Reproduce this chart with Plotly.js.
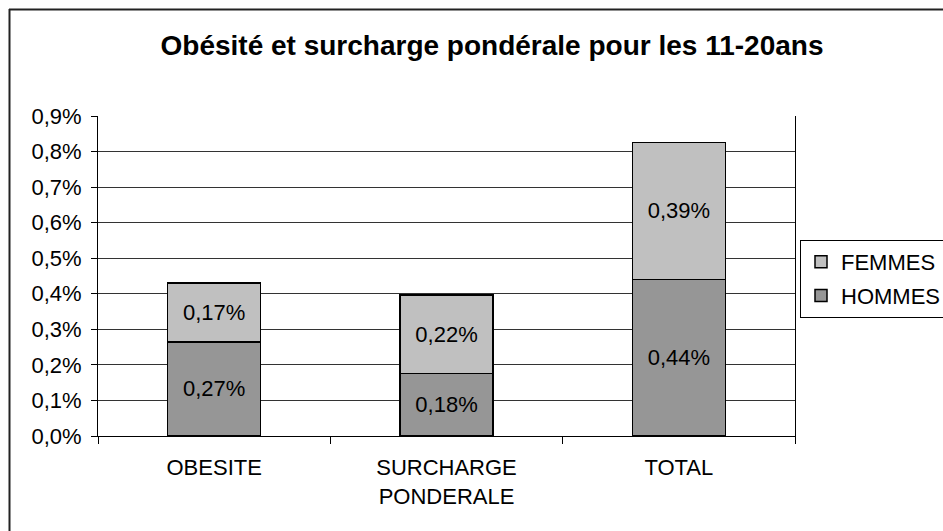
<!DOCTYPE html>
<html>
<head>
<meta charset="utf-8">
<script src="https://cdn.plot.ly/plotly-3.0.1.min.js"></script>
<style>html,body{margin:0;padding:0;background:#fff;}#chart{width:943px;height:531px;}</style>
</head>
<body>
<div id="chart"></div>
<script>
// Data (values in percent)
const categories = ["OBESITE", "SURCHARGE<br>PONDERALE", "TOTAL"];
const hommes = [0.265, 0.176, 0.44];
const femmes = [0.166, 0.221, 0.386];
const yTicks = [0, 0.1, 0.2, 0.3, 0.4, 0.5, 0.6, 0.7, 0.8, 0.9];
const yTickLabels = ["0,0%", "0,1%", "0,2%", "0,3%", "0,4%", "0,5%", "0,6%", "0,7%", "0,8%", "0,9%"];
const titleText = "Obésité et surcharge pondérale pour les 11-20ans";

const FONT = "Liberation Sans, Arial, sans-serif";
const W = 943, H = 531;
const L = 98, R = 148, T = 116, B = 95;
const pw = W - L - R, ph = H - T - B;

const common = {
  type: "bar",
  x: categories,
  textposition: "inside",
  insidetextanchor: "middle",
  texttemplate: "%{y:.2f}%",
  textfont: {family: FONT, size: 22, color: "#000"},
  constraintext: "none",
  hoverinfo: "skip"
};

const traces = [
  Object.assign({}, common, {
    name: "HOMMES", y: hommes, legendgroup: "h", legendrank: 2,
    marker: {color: "#969696", line: {color: "#000", width: 1.5}}
  }),
  Object.assign({}, common, {
    name: "FEMMES", y: femmes, legendgroup: "f", legendrank: 1,
    marker: {color: "#C0C0C0", line: {color: "#000", width: 1.5}}
  })
];

const layout = {
  width: W, height: H,
  margin: {l: L, r: R, t: T, b: B},
  paper_bgcolor: "#fff", plot_bgcolor: "#fff",
  separators: ",.",
  barmode: "stack",
  bargap: 0.6,
  font: {family: FONT, size: 22, color: "#000"},
  title: {
    text: "<b>" + titleText + "</b>",
    font: {family: FONT, size: 28, color: "#000"},
    x: 492 / W, xanchor: "center", xref: "container",
    y: 1 - 45 / H, yanchor: "middle", yref: "container"
  },
  xaxis: {
    type: "category",
    tickson: "boundaries",
    ticks: "outside", ticklen: 7, tickcolor: "#000", tickwidth: 1,
    ticklabelstandoff: 12,
    showline: true, linecolor: "#000", linewidth: 1,
    showgrid: false,
    tickfont: {family: FONT, size: 22, color: "#000"},
    fixedrange: true
  },
  yaxis: {
    range: [0, 0.9],
    tickvals: yTicks,
    ticktext: yTickLabels,
    ticks: "outside", ticklen: 6, tickcolor: "#000", tickwidth: 1,
    ticklabelstandoff: 5,
    showline: true, linecolor: "#000", linewidth: 1, mirror: true,
    showgrid: true, gridcolor: "#333", gridwidth: 1,
    zeroline: false,
    tickfont: {family: FONT, size: 22, color: "#000"},
    fixedrange: true
  },
  legend: {
    xref: "container", yref: "container",
    x: 800 / W, xanchor: "left",
    y: 1 - 240 / H, yanchor: "top",
    bordercolor: "#000", borderwidth: 1,
    bgcolor: "#fff",
    tracegroupgap: 2,
    font: {family: FONT, size: 22, color: "#000"}
  },
  showlegend: true,
  shapes: [
    {type: "line", xref: "paper", yref: "paper",
     x0: (9.5 - L) / pw, x1: (9.5 - L) / pw, y0: (H - B - 9) / ph, y1: -1,
     line: {color: "#222", width: 2}},
    {type: "line", xref: "paper", yref: "paper",
     x0: (9 - L) / pw, x1: 2, y0: (H - B - 9.5) / ph, y1: (H - B - 9.5) / ph,
     line: {color: "#222", width: 2}}
  ]
};

Plotly.newPlot("chart", traces, layout, {displayModeBar: false, staticPlot: true});
</script>
</body>
</html>
